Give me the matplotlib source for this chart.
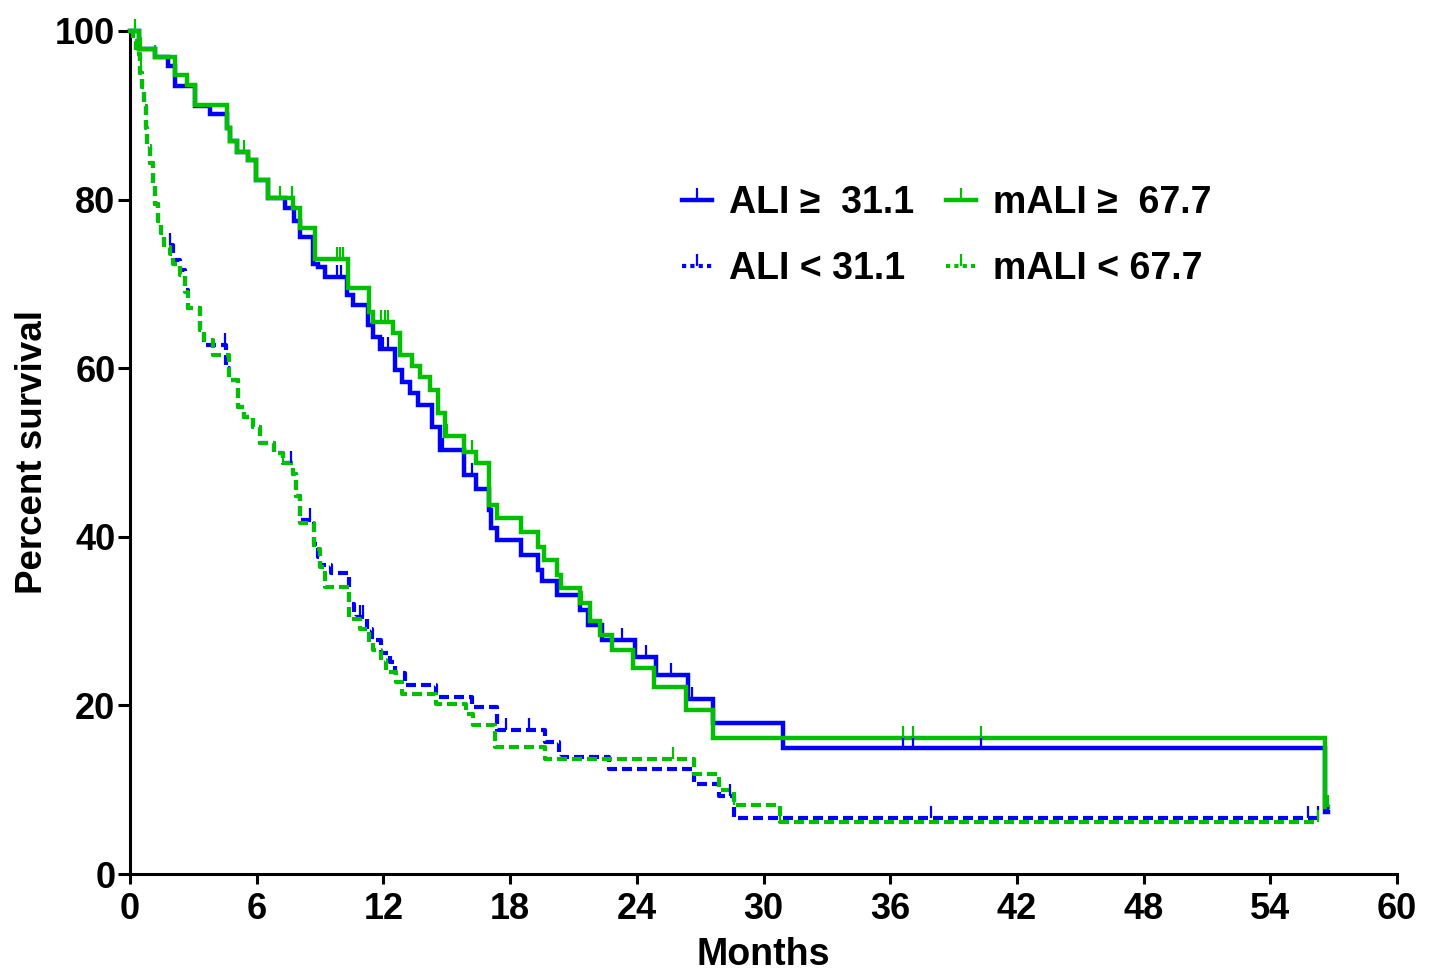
import numpy as np
import matplotlib
matplotlib.use("Agg")
import matplotlib.pyplot as plt
from matplotlib.lines import Line2D

plt.rcParams['font.family'] = ['Liberation Sans', 'DejaVu Sans']
plt.rcParams['font.weight'] = 'bold'

# ALI >= 31.1 (blue, solid)
ali_hi_t = [0, 0.4, 1.18, 1.8, 2.13, 3.08, 3.79, 4.6, 4.75, 5.05, 5.6, 5.95, 6.55, 7.34, 7.75, 8.05,
            8.68, 8.9, 9.23, 10.26, 10.57, 11.28, 11.52, 11.84, 12.55, 12.86, 13.26, 13.65, 14.28, 14.68,
            15.8, 16.4, 17.0, 17.1, 17.4, 18.5, 19.3, 19.5, 20.2, 21.3, 21.7, 22.33, 23.9, 24.9, 26.4,
            27.6, 30.9, 56.6]
ali_hi_s = [100, 97.8, 96.9, 95.8, 93.5, 91.1, 90.1, 88.5, 86.9, 85.7, 84.7, 82.3, 80.2, 79.0, 77.5, 75.6,
            72.4, 72.0, 70.8, 68.7, 67.5, 65.1, 63.7, 62.3, 59.8, 58.4, 57.0, 55.6, 53.0, 50.3,
            47.3, 45.7, 43.2, 41.0, 39.6, 37.8, 36.1, 34.7, 33.1, 31.3, 29.5, 27.8, 25.8, 23.6, 20.8,
            17.9, 14.9, 7.4]
ali_hi_cens = [9.8, 10.0, 12.0, 12.2, 14.8, 16.2, 23.3, 24.45, 25.6, 26.6, 36.6, 37.1, 40.3, 56.75]

# mALI >= 67.7 (green, solid)
mali_hi_t = [0, 0.4, 1.18, 2.13, 2.68, 3.08, 4.6, 4.75, 5.05, 5.6, 5.95, 6.55, 7.73, 8.05, 8.76,
             10.3, 11.3, 11.5, 12.47, 12.78, 13.34, 13.73, 14.2, 14.6, 14.9, 15.8, 16.4, 17.0, 17.4,
             18.5, 19.3, 19.6, 20.2, 20.4, 21.3, 21.8, 22.25, 22.8, 23.8, 24.8, 26.35, 27.6, 56.6]
mali_hi_s = [100, 97.8, 96.9, 94.8, 93.6, 91.2, 88.5, 86.9, 85.7, 84.7, 82.3, 80.2, 79.0, 76.6, 73.0,
             69.5, 66.7, 65.5, 64.2, 61.6, 60.2, 59.0, 57.4, 54.7, 51.9, 50.1, 48.7, 43.8, 42.2,
             40.6, 38.8, 37.2, 35.5, 33.9, 32.1, 30.0, 28.4, 26.6, 24.4, 22.2, 19.5, 16.1, 8.0]
mali_hi_cens = [0.25, 0.5, 1.2, 5.4, 7.1, 7.65, 9.8, 9.95, 10.1, 11.3, 11.9, 12.05, 12.2, 15.0, 16.2,
                21.4, 22.3, 36.6, 37.1, 40.3, 56.75]

# ALI < 31.1 (blue, dashed)
ali_lo_t = [0, 0.15, 0.3, 0.45, 0.55, 0.65, 0.75, 0.8, 0.95, 1.1, 1.2, 1.3, 1.45, 1.6, 2.05, 2.37, 2.6,
            2.76, 3.3, 3.5, 4.55, 4.7, 5.1, 5.4, 5.8, 6.15, 6.8, 7.26, 7.7, 7.85, 8.05, 8.7, 8.9, 9.0,
            9.5, 10.37, 10.6, 11.2, 11.45, 11.9, 12.3, 12.55, 13.0, 14.5, 16.2, 17.4, 19.65, 20.3, 22.7,
            26.7, 27.9, 28.6]
ali_lo_s = [100, 98.8, 97.3, 95.0, 93.4, 91.1, 88.5, 86.3, 84.3, 82.0, 79.5, 77.5, 76.0, 74.6, 72.8, 71.6, 69.3,
            67.1, 64.5, 62.8, 60.0, 58.6, 55.4, 54.2, 53.0, 51.1, 49.9, 48.7, 47.5, 44.8, 42.0, 39.2, 37.6, 36.7,
            35.7, 32.0, 30.5, 29.1, 27.8, 26.2, 25.2, 23.8, 22.4, 21.0, 19.8, 17.1, 15.7, 13.9, 12.5,
            10.7, 9.2, 6.6]
ali_lo_cens = [1.9, 4.5, 7.6, 8.5, 10.9, 11.05, 17.8, 18.9, 28.4, 37.95, 55.8, 56.25]

# mALI < 67.7 (green, dashed)
mali_lo_t = [0, 0.15, 0.3, 0.45, 0.55, 0.65, 0.75, 0.8, 0.95, 1.1, 1.2, 1.3, 1.45, 1.6, 1.9, 2.05, 2.37,
             2.6, 2.76, 3.3, 3.5, 3.94, 4.7, 5.1, 5.4, 5.8, 6.15, 6.8, 7.26, 7.7, 7.85, 8.05, 8.7, 9.0,
             9.25, 10.37, 10.9, 11.3, 11.5, 11.9, 12.1, 12.6, 12.9, 14.5, 15.9, 16.25, 17.3, 19.65, 26.7,
             27.9, 28.6, 30.8]
mali_lo_s = [100, 98.8, 97.3, 95.0, 93.4, 91.1, 88.5, 86.3, 84.3, 82.0, 79.5, 77.5, 76.0, 74.4, 73.6, 72.4, 71.0,
             69.0, 67.1, 64.5, 63.3, 61.6, 58.6, 55.4, 54.2, 53.0, 51.1, 49.9, 48.7, 47.5, 44.8, 41.6, 38.6, 36.4,
             34.1, 30.3, 29.1, 27.5, 26.6, 25.4, 24.0, 22.8, 21.4, 20.2, 19.0, 17.7, 15.1, 13.7, 11.9,
             10.0, 8.2, 6.2]
mali_lo_cens = [0.5, 7.26, 25.7, 28.6, 30.8, 56.25]

labels = ['ALI \u2265  31.1', 'ALI < 31.1', 'mALI \u2265  67.7', 'mALI < 67.7']

BLUE = '#0000ff'
GREEN = '#00c000'
DASH = (0, (2.4, 1.2))

fig = plt.figure(figsize=(14.34, 9.73), dpi=100)
ax = fig.add_axes([0.0907, 0.1017, 0.8835, 0.8665])


def km(t, s, cens, color, ls, lw):
    t = np.array(t)
    s = np.array(s)
    end = max(cens[-1], t[-1])
    tt = np.append(t, end)
    ss = np.append(s, s[-1])
    ax.step(tt, ss, where='post', color=color, lw=lw, linestyle=ls,
            solid_joinstyle='miter', clip_on=False, zorder=3)
    c = np.array(cens)
    idx = np.searchsorted(t, c, side='right') - 1
    ax.plot(c, s[idx], linestyle='none', marker=2, ms=9, mew=1.6,
            color=color, clip_on=False, zorder=4)


km(ali_hi_t, ali_hi_s, ali_hi_cens, BLUE, '-', 3.2)
km(ali_lo_t, ali_lo_s, ali_lo_cens, BLUE, DASH, 3.0)
km(mali_hi_t, mali_hi_s, mali_hi_cens, GREEN, '-', 3.2)
km(mali_lo_t, mali_lo_s, mali_lo_cens, GREEN, DASH, 3.0)

ax.set_xlim(0, 60)
ax.set_ylim(0, 100)
ax.set_xticks(np.arange(0, 61, 6))
ax.set_yticks(np.arange(0, 101, 20))
for sp in ['top', 'right']:
    ax.spines[sp].set_visible(False)
for sp in ['left', 'bottom']:
    ax.spines[sp].set_linewidth(2.2)
ax.tick_params(axis='both', width=2.2, labelsize=26)
ax.tick_params(axis='y', length=8.5, pad=2)
ax.tick_params(axis='x', length=7, pad=6)
for lab in ax.get_xticklabels() + ax.get_yticklabels():
    lab.set_fontweight('bold')

ax.set_xlabel('Months', fontsize=27, fontweight='bold', labelpad=7)
ax.set_ylabel('Percent survival', fontsize=26.5, fontweight='bold', labelpad=4)

handles = [
    Line2D([], [], color=BLUE, lw=3.2, marker=2, ms=9, mew=1.6),
    Line2D([], [], color=BLUE, lw=3.0, linestyle=(0, (1.0, 1.0)), marker=2, ms=9, mew=1.6),
    Line2D([], [], color=GREEN, lw=3.2, marker=2, ms=9, mew=1.6),
    Line2D([], [], color=GREEN, lw=3.0, linestyle=(0, (1.0, 1.0)), marker=2, ms=9, mew=1.6),
]
leg = ax.legend(handles, labels, ncol=2, loc='upper left', bbox_to_anchor=(0.421, 0.839),
                frameon=False, handlelength=0.8, handletextpad=0.45, columnspacing=0.85,
                labelspacing=0.8, borderpad=0,
                prop={'family': ['Liberation Sans', 'DejaVu Sans'], 'weight': 'bold', 'size': 27})

fig.savefig('out.png', dpi=100)
